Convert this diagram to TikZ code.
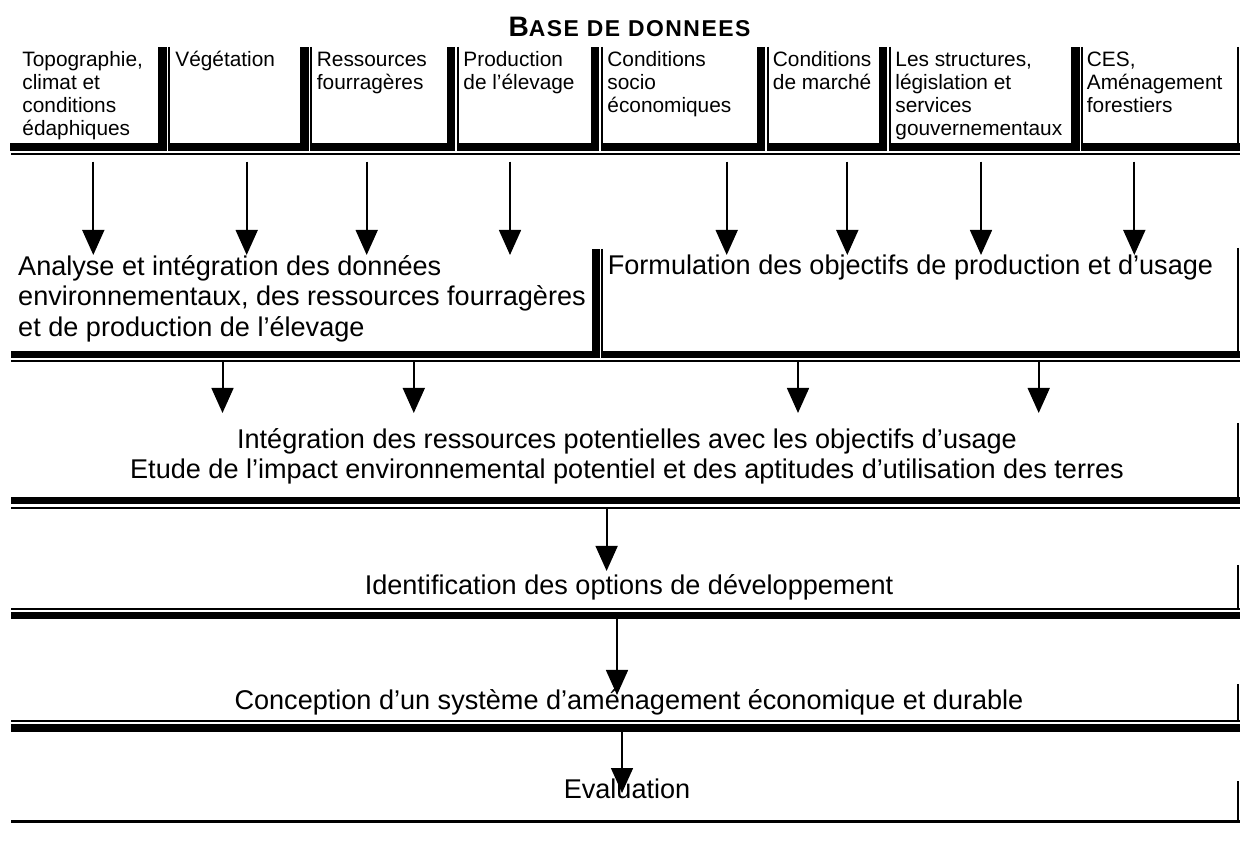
\documentclass[tikz,border=0pt]{standalone}
\usepackage{fontspec}
\setmainfont{Liberation Sans}
\newfontfamily\titlefont[LetterSpace=6.5]{Liberation Sans}
\usetikzlibrary{arrows.meta}
\begin{document}
\begin{tikzpicture}[x=0.48pt,y=-0.48pt,
  band/.style={fill=black},
  hair/.style={line width=0.96pt},
  arr/.style={line width=0.96pt,-{Triangle[width=10.5pt,length=12pt]}},
  small/.style={font=\fontsize{10}{11}\selectfont,anchor=north west,inner sep=0pt,align=left},
  big/.style={font=\fontsize{13}{14.6}\selectfont,inner sep=0pt},
]
\useasboundingbox (0,0) rectangle (1240,843);
\fill[white] (0,0) rectangle (1240,843);

% title
\node[anchor=base,inner sep=0pt] (title) at (629.5,37)
  {\titlefont\bfseries\fontsize{13.5}{14}\selectfont B\fontsize{11}{12}\selectfont ASE DE DONNEES};

% ---------- row 1 : database cells ----------
\foreach \L/\t in {11/169,169/311,311/457.5,457.5/601.5,601.5/767.5,767.5/889.5,889.5/1082}{
  \fill[band] (\L-1,143.5) rectangle (\t-2.5,151.5);
  \fill[band] (\t-11,47) rectangle (\t-2.5,151.5);
}
\foreach \L in {169,311,457.5,601.5,767.5,889.5,1082}{
  \draw[hair] (\L,47) -- (\L,151.5);
}
\fill[band] (1081,143.5) rectangle (1240,151.5);
\draw[hair] (1238,47) -- (1238,143.5);
\draw[hair] (11,154.5) -- (1240,154.5);

\node[small] (c1) at (22,47.5) {\rule{0pt}{9pt}Topographie,\\climat et\\conditions\\édaphiques};
\node[small] (c2) at (175,47.5) {\rule{0pt}{9pt}Végétation};
\node[small] (c3) at (316.5,47.5) {\rule{0pt}{9pt}Ressources\\fourragères};
\node[small] (c4) at (463,47.5) {\rule{0pt}{9pt}Production\\de l’élevage};
\node[small] (c5) at (607,47.5) {\rule{0pt}{9pt}Conditions\\socio\\économiques};
\node[small] (c6) at (772.5,47.5) {\rule{0pt}{9pt}Conditions\\de marché};
\node[small] (c7) at (895,47.5) {\rule{0pt}{9pt}Les structures,\\législation et\\services\\gouvernementaux};
\node[small] (c8) at (1086.5,47.5) {\rule{0pt}{9pt}CES,\\Aménagement\\forestiers};

\foreach \i/\x in {1/93.3,2/246.7,3/366.7,4/510,5/726.7,6/847.3,7/981,8/1134.3}{
  \coordinate (s\i) at (\x,161.7);
  \coordinate (e\i) at (\x,255);
  \draw[arr] (s\i) -- (e\i);
}

% ---------- row 2 ----------
\fill[band] (11,350.7) rectangle (599.5,358.3);
\fill[band] (591.5,249) rectangle (599.5,358.3);
\draw[hair] (602,249) -- (602,358.3);
\fill[band] (601,350.7) rectangle (1240,358.3);
\draw[hair] (1238,248) -- (1238,351);
\draw[hair] (11,361.5) -- (1240,361.5);

\node[big,anchor=north west,align=left] (analyse) at (17.8,251)
  {\rule{0pt}{11.5pt}Analyse et intégration des données\\environnementaux, des ressources fourragères\\et de production de l’élevage};
\node[big,anchor=north west,align=left] (formul) at (607.4,250)
  {\rule{0pt}{11.5pt}Formulation des objectifs de production et d’usage};

\foreach \i/\x in {1/222.5,2/413.8,3/798,4/1038.7}{
  \coordinate (t\i) at (\x,362.5);
  \coordinate (f\i) at (\x,413);
  \draw[arr] (t\i) -- (f\i);
}

% ---------- row 3 ----------
\draw[hair] (1238,423) -- (1238,497);
\fill[band] (11,497) rectangle (1240,504);
\draw[hair] (11,507.7) -- (1240,507.7);
\node[big,anchor=north,align=center] (integ) at (627,424)
  {\rule{0pt}{11.5pt}Intégration des ressources potentielles avec les objectifs d’usage\\Etude de l’impact environnemental potentiel et des aptitudes d’utilisation des terres};

\coordinate (g1) at (606.6,508.7);
\coordinate (g2) at (606.6,571);
\draw[arr] (g1) -- (g2);

% ---------- row 4 ----------
\draw[hair] (1238,565) -- (1238,609);
\draw[hair] (11,609) -- (1240,609);
\fill[band] (11,612) rectangle (1240,619.5);
\node[big,anchor=base] (ident) at (629,595) {Identification des options de développement};

\coordinate (h1) at (617,619.5);
\coordinate (h2) at (617,695);
\draw[arr] (h1) -- (h2);

% ---------- row 5 ----------
\draw[hair] (1238,684) -- (1238,721);
\draw[hair] (11,721) -- (1240,721);
\fill[band] (11,724) rectangle (1240,731.5);
\node[big,anchor=base] (concep) at (629,709) {Conception d’un système d’aménagement économique et durable};

\coordinate (k1) at (622,731.5);
\coordinate (k2) at (622,793);
\draw[arr] (k1) -- (k2);

% ---------- row 6 ----------
\draw[hair] (1238,781) -- (1238,821);
\fill[band] (11,820) rectangle (1240,822.5);
\node[big,anchor=base] (evalu) at (627,798) {Evaluation};
\end{tikzpicture}
\end{document}
